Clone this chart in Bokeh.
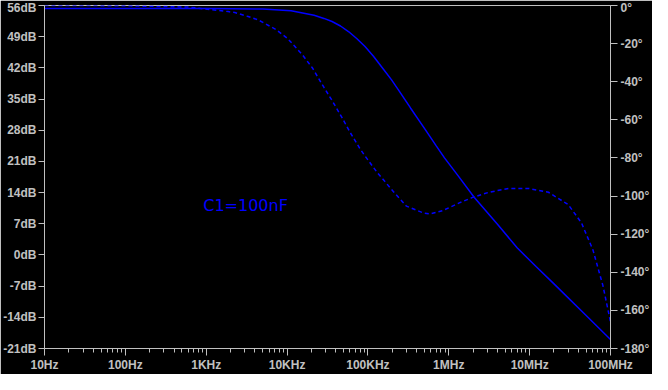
from bokeh.plotting import figure
from bokeh.models import Range1d, LinearAxis, FixedTicker
from bokeh.core.properties import value
from bokeh.embed import file_html
from bokeh.resources import INLINE

# ---- data ----
mag_freq = [10, 100, 1e3, 5e3, 11.2e3, 21.6e3, 28.6e3, 36e3, 45.8e3, 58e3, 72.6e3, 92e3,
            117e3, 155.6e3, 196e3, 237e3, 336e3, 500e3, 693e3, 885e3, 1.3e6, 2.07e6,
            4e6, 7e6, 12e6, 20e6, 27.3e6, 50e6, 100e6]
mag_db = [55.3, 55.3, 55.3, 55.2, 54.8, 53.8, 53.1, 52.4, 51.4, 50.1, 48.6, 46.8,
          44.6, 41.7, 39.3, 37.1, 33.0, 28.4, 24.6, 21.8, 17.8, 12.9,
          6.9, 1.6, -2.6, -6.5, -8.9, -13.6, -19.0]

ph_freq = [10, 100, 150, 600, 1.87e3, 2.26e3, 3.3e3, 4.37e3, 5.3e3, 7.3e3, 10.2e3, 15.5e3,
           20.6e3, 28.6e3, 36.2e3, 48e3, 60.8e3, 80.6e3, 92.9e3, 129e3, 206e3, 300e3, 479e3,
           580e3, 844e3, 1.35e6, 1.97e6, 3.15e6, 5.5e6, 9.7e6, 17.1e6, 30e6, 43.7e6,
           60.8e6, 80.6e6, 100e6]
ph_deg = [0.0, -0.1, -0.3, -0.8, -3.2, -3.7, -5.8, -7.5, -9.4, -12.6, -17.4, -25.9,
          -32.8, -43.0, -50.0, -59.0, -66.9, -75.5, -79.2, -87.4, -97.6, -105.3, -108.8,
          -109.4, -107.6, -103.6, -100.7, -98.0, -96.0, -96.0, -98.0, -104.5, -114.0,
          -128.4, -147.0, -166.0]

x_ticks = [10, 100, 1e3, 1e4, 1e5, 1e6, 1e7, 1e8]
x_labels = ["10Hz", "100Hz", "1KHz", "10KHz", "100KHz", "1MHz", "10MHz", "100MHz"]
db_ticks = [56, 49, 42, 35, 28, 21, 14, 7, 0, -7, -14, -21]
db_labels = ["56dB", "49dB", "42dB", "35dB", "28dB", "21dB", "14dB", "7dB", "0dB", "-7dB", "-14dB", "-21dB"]
ph_ticks = [0, -20, -40, -60, -80, -100, -120, -140, -160, -180]
ph_labels = ["0°", "-20°", "-40°", "-60°", "-80°", "-100°", "-120°", "-140°", "-160°", "-180°"]

note_text = ["C1=100nF"]
note_x = [918]
note_y = [11.2]

GRAY = "#c0c0c0"
BLUE = "#0000ff"
FONT = "Liberation Sans"

p = figure(width=652, height=374, x_axis_type="log", output_backend="svg",
           toolbar_location=None, x_range=Range1d(10, 1e8), y_range=Range1d(-21, 56),
           min_border_left=42, min_border_right=41, min_border_top=5, min_border_bottom=23)
p.background_fill_color = "black"
p.border_fill_color = "black"
p.outline_line_color = GRAY
p.outline_line_width = 1
p.grid.visible = False

p.extra_y_ranges = {"phase": Range1d(-180, 0)}

# x axis
minor = [d * k for d in x_ticks[:-1] for k in range(2, 10)]
xa = p.xaxis[0]
xa.ticker = FixedTicker(ticks=x_ticks, minor_ticks=minor)
xa.major_label_overrides = {t: l for t, l in zip(x_ticks, x_labels)}
xa.axis_line_color = GRAY
xa.major_tick_line_color = GRAY
xa.minor_tick_line_color = GRAY
xa.major_tick_out = 7
xa.major_tick_in = 0
xa.minor_tick_out = 4
xa.minor_tick_in = 0
xa.major_label_standoff = 2
xa.major_label_text_color = GRAY
xa.major_label_text_font = FONT
xa.major_label_text_font_style = "bold"
xa.major_label_text_font_size = "12px"

# left axis
ya = p.yaxis[0]
ya.ticker = FixedTicker(ticks=db_ticks)
ya.major_label_overrides = {t: l for t, l in zip(db_ticks, db_labels)}
ya.axis_line_color = GRAY
ya.major_tick_line_color = GRAY
ya.minor_tick_line_color = None
ya.major_tick_out = 6
ya.major_tick_in = 0
ya.major_label_standoff = 2
ya.major_label_text_color = GRAY
ya.major_label_text_font = FONT
ya.major_label_text_font_style = "bold"
ya.major_label_text_font_size = "12px"

# right axis
ra = LinearAxis(y_range_name="phase", ticker=FixedTicker(ticks=ph_ticks))
ra.major_label_overrides = {t: l for t, l in zip(ph_ticks, ph_labels)}
ra.axis_line_color = GRAY
ra.major_tick_line_color = GRAY
ra.minor_tick_line_color = None
ra.major_tick_out = 7
ra.major_tick_in = 0
ra.major_label_standoff = 3
ra.major_label_text_color = GRAY
ra.major_label_text_font = FONT
ra.major_label_text_font_style = "bold"
ra.major_label_text_font_size = "12px"
p.add_layout(ra, "right")

p.line(mag_freq, mag_db, line_color=BLUE, line_width=1.5)
p.line(ph_freq, ph_deg, y_range_name="phase", line_color=BLUE, line_width=1.5,
       line_dash="4 3")

p.text(x=note_x, y=note_y, text=note_text, text_color=BLUE, text_font=value("DejaVu Sans"),
       text_font_size="16px", text_align="left", text_baseline="middle")

open("out.html", "w").write(file_html(p, INLINE))
